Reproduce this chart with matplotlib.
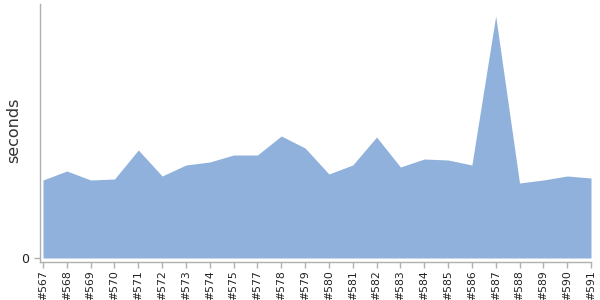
import matplotlib
matplotlib.use("Agg")
import matplotlib.pyplot as plt

builds = ["#567", "#568", "#569", "#570", "#571", "#572", "#573", "#574", "#575",
          "#577", "#578", "#579", "#580", "#581", "#582", "#583", "#584", "#585",
          "#586", "#587", "#588", "#589", "#590", "#591"]
seconds = [78, 87, 78, 79, 108, 82, 93, 96, 103, 103, 122, 110, 84, 93, 121,
           91, 99, 98, 93, 242, 75, 78, 82, 80]

fig = plt.figure(figsize=(6, 3), dpi=100)
ax = fig.add_axes([40/600, 38/300, 551/600, 258/300])

x = list(range(len(builds)))
ax.fill_between(x, 0, seconds, color="#8fb1db", linewidth=0)

ax.set_xlim(-0.126, len(builds) - 1)
ax.set_ylim(-4, 254)
ax.set_xticks(x)
ax.set_xticklabels(builds, rotation=90, fontsize=7.8, color="#111111")
ax.set_yticks([0])
ax.set_yticklabels(["0"], fontsize=9, color="#333333")
fig.text(14/600, 1 - 130/300, "seconds", rotation=90, fontsize=11.5, color="#333333",
         ha="center", va="center")

for s in ["top", "right"]:
    ax.spines[s].set_visible(False)
for s in ["left", "bottom"]:
    ax.spines[s].set_color("#b0b0b0")
    ax.spines[s].set_linewidth(1)
ax.tick_params(axis="both", colors="#b0b0b0", length=4, width=1, labelcolor="#222222")
ax.tick_params(axis="x", pad=2)

fig.savefig("out.png", dpi=100)
